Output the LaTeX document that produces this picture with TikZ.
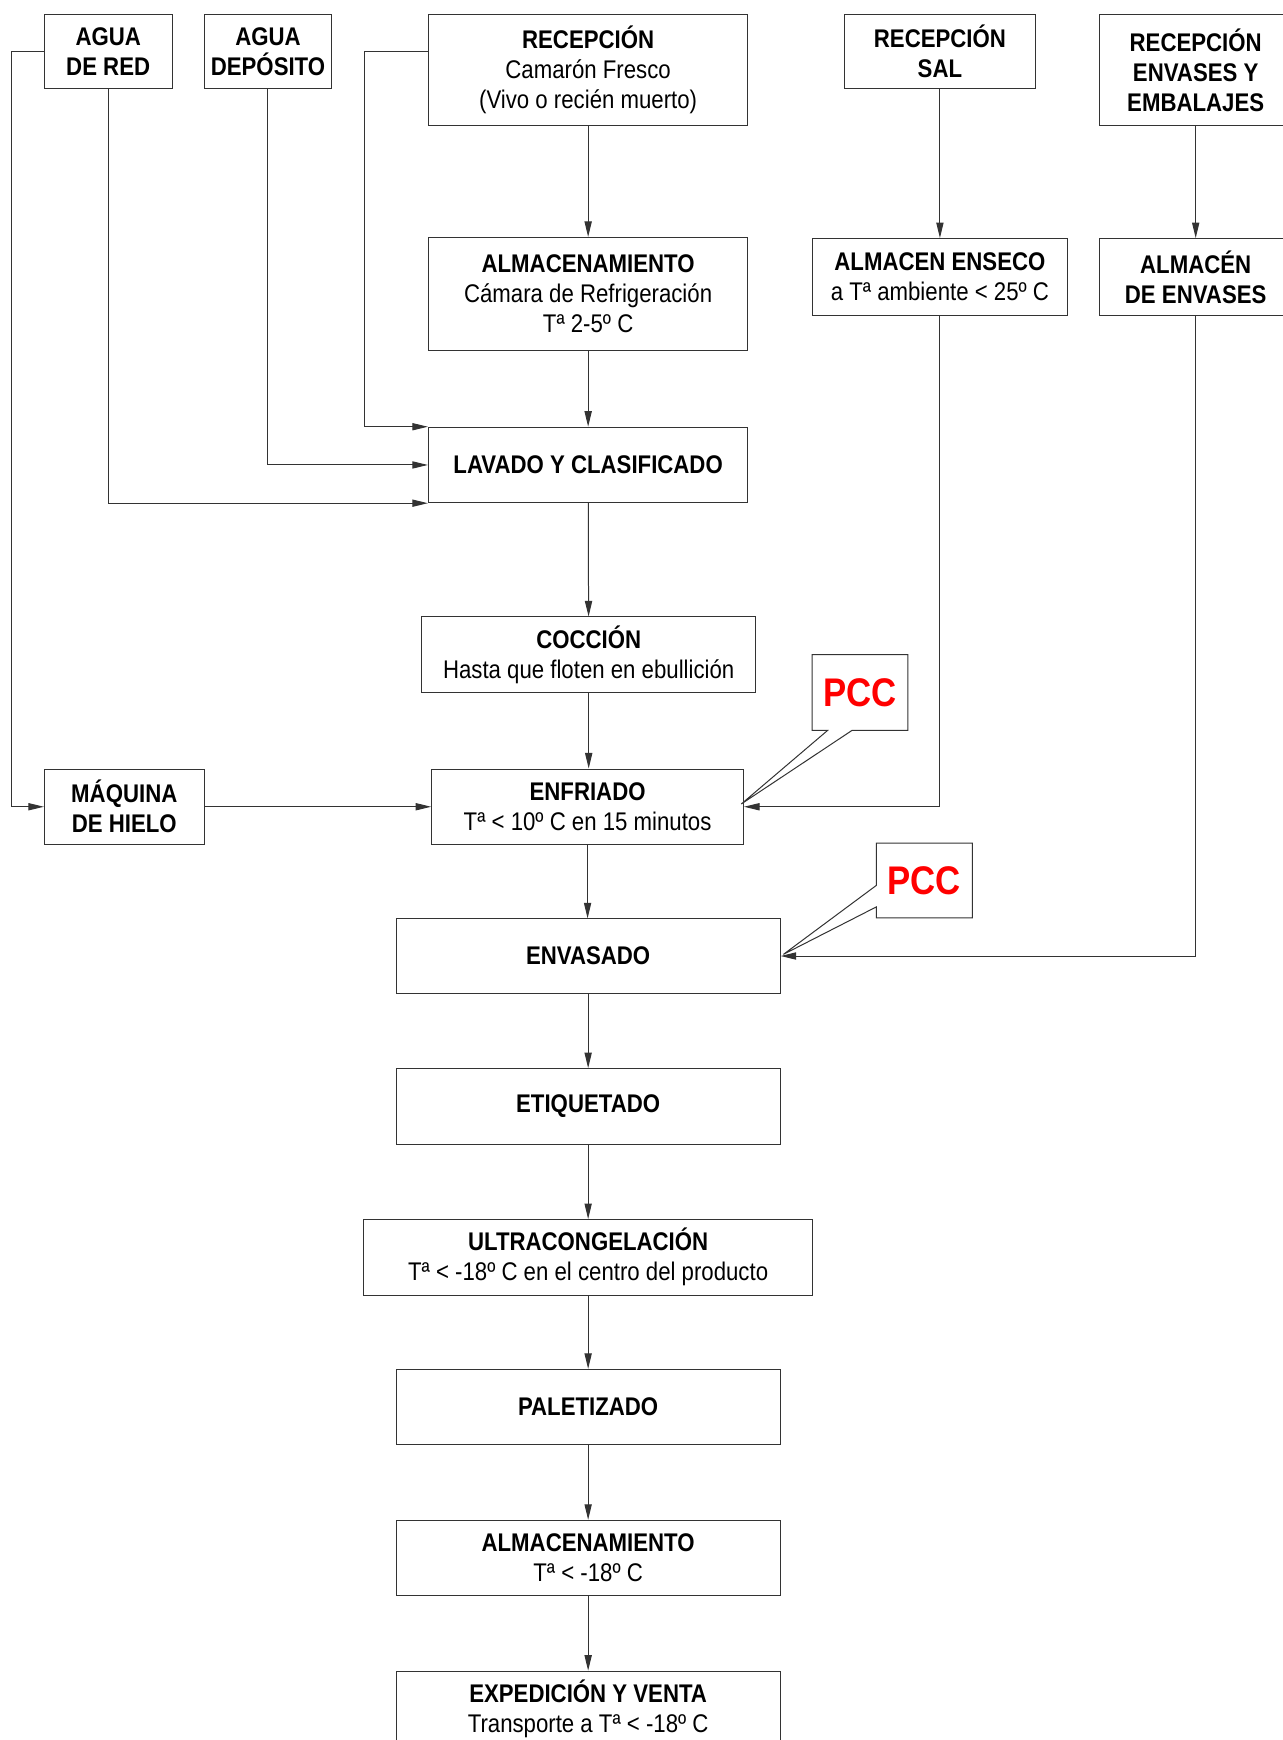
\documentclass[tikz,border=0pt]{standalone}
\usepackage{fontspec}
\setmainfont{Liberation Sans}[FakeStretch=0.87]
\usetikzlibrary{arrows.meta,calc}

\tikzset{
  box/.style={draw=black!80, line width=0.9pt, fill=white, inner sep=0pt,
    align=center, font=\fontsize{23}{27}\selectfont},
  link/.style={draw=black!80, line width=0.9pt},
  arr/.style={link, -{Triangle[length=14pt,width=6.5pt]}},
  pcctext/.style={font=\fontsize{36}{40}\selectfont\bfseries, text=red, inner sep=0pt},
  callout/.style={draw=black!80, line width=0.9pt, fill=white},
}

\begin{document}
\begin{tikzpicture}[x=1pt,y=-1pt]
\useasboundingbox (0,0) rectangle (1156,1568);
\begin{scope}
\clip (0,0) rectangle (1156,1568);

% supplies (top row)
\node[box, minimum width=115pt, minimum height=67pt] (aguared) at (97.5,46.5) {\textbf{AGUA}\\\textbf{DE RED}};
\node[box, minimum width=115pt, minimum height=67pt] (aguadep) at (241.5,46.5) {\textbf{AGUA}\\\textbf{DEPÓSITO}};
\node[box, minimum width=288pt, minimum height=100pt] (recep) at (530,63) {\textbf{RECEPCIÓN}\\Camarón Fresco\\(Vivo o recién muerto)};
\node[box, minimum width=172pt, minimum height=67pt] (recsal) at (847,46.5) {\textbf{RECEPCIÓN}\\\textbf{SAL}};
\node[box, minimum width=173pt, minimum height=100pt] (recenv) at (1077.5,63) {\textbf{RECEPCIÓN}\\\textbf{ENVASES Y}\\\textbf{EMBALAJES}};

% storage
\node[box, minimum width=288pt, minimum height=102pt] (almac1) at (530,265) {\textbf{ALMACENAMIENTO}\\Cámara de Refrigeración\\Tª 2-5º C};
\node[box, minimum width=230pt, minimum height=69pt] (almsal) at (847,249.5) {\textbf{ALMACEN ENSECO}\\a Tª ambiente < 25º C};
\node[box, minimum width=173pt, minimum height=69pt] (almenv) at (1077.5,249.5) {\textbf{ALMACÉN}\\\textbf{DE ENVASES}};

% main line
\node[box, minimum width=288pt, minimum height=68pt] (lavado) at (530,419) {\textbf{LAVADO Y CLASIFICADO}};
\node[box, minimum width=301pt, minimum height=68pt] (coccion) at (530.5,590) {\textbf{COCCIÓN}\\Hasta que floten en ebullición};
\node[box, minimum width=144pt, minimum height=68pt] (hielo) at (112,727) {\textbf{MÁQUINA}\\\textbf{DE HIELO}};
\node[box, minimum width=281pt, minimum height=68pt] (enfriado) at (529.5,727) {\textbf{ENFRIADO}\\Tª < 10º C en 15 minutos};
\node[box, minimum width=346pt, minimum height=67pt] (envasado) at (530,861.5) {\textbf{ENVASADO}};
\node[box, minimum width=346pt, minimum height=68pt] (etiq) at (530,997) {\textbf{ETIQUETADO}};
\node[box, minimum width=404pt, minimum height=68pt] (ultra) at (530,1133) {\textbf{ULTRACONGELACIÓN}\\Tª < -18º C en el centro del producto};
\node[box, minimum width=346pt, minimum height=68pt] (palet) at (530,1268) {\textbf{PALETIZADO}};
\node[box, minimum width=346pt, minimum height=68pt] (almac2) at (530,1404) {\textbf{ALMACENAMIENTO}\\Tª < -18º C};
\node[box, minimum width=346pt, minimum height=68pt] (exped) at (530,1540) {\textbf{EXPEDICIÓN Y VENTA}\\Transporte a Tª < -18º C};

% vertical flow
\draw[arr] (recep) -- (almac1);
\draw[arr] (almac1) -- (lavado);
\draw[arr] (lavado) -- (coccion);
\draw[arr] (coccion.south) -- (coccion.south |- enfriado.north);
\draw[arr] (enfriado.south) -- (enfriado.south |- envasado.north);
\draw[arr] (envasado) -- (etiq);
\draw[arr] (etiq) -- (ultra);
\draw[arr] (ultra) -- (palet);
\draw[arr] (palet) -- (almac2);
\draw[arr] (almac2) -- (exped);
\draw[arr] (recsal) -- (almsal);
\draw[arr] (recenv) -- (almenv);

% inputs to washing
\draw[arr] (recep.west |- aguared.west) -- ++(-57,0) |- (lavado.north west);
\draw[arr] (aguadep.south) |- (lavado.west);
\draw[arr] (aguared.south) |- (lavado.south west);

% ice machine
\draw[arr] (aguared.west) -- ++(-29,0) |- (hielo.west);
\draw[arr] (hielo.east) -- (enfriado.west);

% salt and packaging
\draw[arr] (almsal.south) |- (enfriado.east);
\draw[arr] (almenv.south) |- (envasado.east);

% critical control points
\node[pcctext, minimum width=86pt, minimum height=68pt] (pcc1) at (775,624) {PCC};
\coordinate (tip1) at (668,724.5);
\draw[callout] (pcc1.north west) -- (pcc1.north east) -- (pcc1.south east)
  -- ($(pcc1.south west)+(36,0)$) -- (tip1) -- ($(pcc1.south west)+(14,0)$)
  -- (pcc1.south west) -- cycle;
\node[pcctext] at (pcc1) {PCC};

\node[pcctext, minimum width=86pt, minimum height=67pt] (pcc2) at (833,793.5) {PCC};
\coordinate (tip2) at (706,860);
\draw[callout] (pcc2.north west) -- (pcc2.north east) -- (pcc2.south east)
  -- (pcc2.south west) -- ($(pcc2.south west)+(0,-10)$) -- (tip2)
  -- ($(pcc2.north west)+(0,38)$) -- cycle;
\node[pcctext] at (pcc2) {PCC};
\end{scope}
\end{tikzpicture}
\end{document}
